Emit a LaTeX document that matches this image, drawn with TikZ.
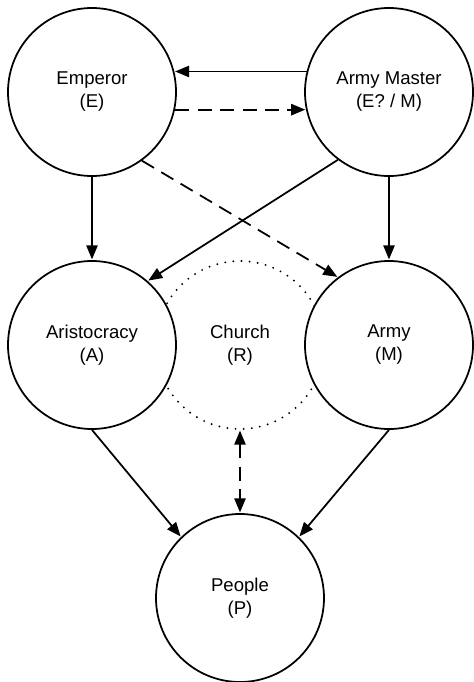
\documentclass[tikz,border=0pt]{standalone}
\usepackage{fontspec}
\setmainfont{Liberation Sans}
\usetikzlibrary{positioning, arrows.meta, backgrounds}

\begin{document}
\begin{tikzpicture}[node distance=1cm, on grid, line width=1.25pt,
    >={Triangle[length=10pt, width=8pt]}]
      \tikzstyle{group}=[circle, draw, fill=white, minimum size=4.2cm, inner sep=0pt,
        align=center, font=\fontsize{13.2}{16.4}\selectfont]
      \tikzstyle{link}=[->, shorten >=0.5pt]
      \tikzstyle{weak}=[dash pattern=on 10pt off 6pt]
      \useasboundingbox (-2.3,2.3) rectangle (9.525,-14.75);

      % Nodes
      \node[group]                 (em) {Emperor\\(E)};
      \node[group]                 (am) [right=7.425cm of em] {Army Master\\(E? / M)};
      \node[group]                 (ar) [below=6.325cm of em] {Aristocracy\\(A)};
      \node[group]                 (ay) [below=6.325cm of am] {Army\\(M)};
      \node[group, draw=none, fill=none] (ch) [right=3.7cm of ar] {Church\\(R)};
      \node[group]                 (pe) [below=6.325cm of ch] {People\\(P)};
      \begin{scope}[on background layer]
        \draw[line width=1.5pt, dash pattern=on 0pt off 5.8pt, line cap=round]
          (ch) circle (2.1cm);
      \end{scope}

      % Edges
      \draw[link] (am.166) -- (em.14);
      \draw[link, weak] (em.-12) -- (am.192);
      \draw[link] (em) -- (ar);
      \draw[link] (am) -- (ay);
      \draw[link] (am.233) -- (ar.49);
      \draw[link, weak] (em.-54) -- (ay.127);
      \draw[link] (ar.south) -- (pe.134);
      \draw[link] (ay.south) -- (pe.46);
      \draw[<->, weak, shorten <=0.5pt, shorten >=0.5pt] (ch.south) -- (pe.north);
    \end{tikzpicture}
\end{document}
